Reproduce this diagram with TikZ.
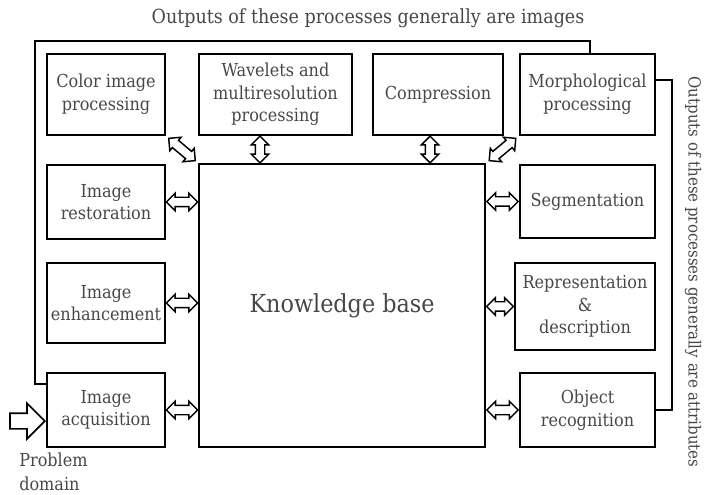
\documentclass[tikz,border=0pt]{standalone}
\usepackage{amsmath,amsfonts,amssymb}
\usepackage{fontspec}
\setmainfont{DejaVu Serif Condensed}
\usetikzlibrary{calc,shapes.arrows}

\begin{document}
\begin{tikzpicture}[x=0.75pt,y=-0.75pt,
  box/.style={rectangle,draw,line width=1.5pt,text=black!72,align=center,inner sep=1pt,
              font=\fontsize{13.4}{17}\selectfont},
  dbl/.style={double arrow,draw,fill=white,line width=1.1pt,inner sep=0pt,inner ysep=3pt,
              double arrow head extend=3pt,minimum height=#1},
  dbl/.default=23.5pt,
  fback/.style={line width=1.5pt},
  bigarrow/.style={single arrow,draw,line width=1.3pt,minimum height=26pt,inner sep=0pt,
              inner ysep=5.25pt,single arrow head extend=7.5pt,anchor=tip},
  note/.style={text=black!72,inner sep=0pt}]

\useasboundingbox (0,0) rectangle (707,495);

\node[box,minimum width=88.5pt,minimum height=60.75pt] (color) at (106,94.5) {Color image\\processing};
\node[box,minimum width=114.75pt,minimum height=60.75pt] (wave) at (275.5,94.5) {Wavelets and\\multiresolution\\processing};
\node[box,minimum width=97.5pt,minimum height=60.75pt] (comp) at (438,94.5) {Compression};
\node[box,minimum width=101.25pt,minimum height=60.75pt] (morph) at (587.5,94.5) {Morphological\\processing};

\node[box,minimum width=214.5pt,minimum height=212.25pt,font=\fontsize{18.6}{22}\selectfont] (kb) at (342,305.5) {Knowledge base};

\node[box,minimum width=88.5pt,minimum height=55.5pt] (restore) at (106,202) {Image\\restoration};
\node[box,minimum width=88.5pt,minimum height=60pt] (enhance) at (106,303) {Image\\enhancement};
\node[box,minimum width=88.5pt,minimum height=55.5pt] (acquire) at (106,410) {Image\\acquisition};

\node[box,minimum width=101.25pt,minimum height=54.75pt] (segment) at (587.5,201.5) {Segmentation};
\node[box,minimum width=105pt,minimum height=65.25pt] (repr) at (585,306.5) {Representation\\\&\\description};
\node[box,minimum width=101.25pt,minimum height=55.5pt] (object) at (587.5,410) {Object\\recognition};

\node[dbl] (a1) at ($(restore.east)!0.5!(restore.east -| kb.west)$) {};
\node[dbl] (a2) at ($(enhance.east)!0.5!(enhance.east -| kb.west)$) {};
\node[dbl] (a3) at ($(acquire.east)!0.5!(acquire.east -| kb.west)$) {};
\node[dbl] (a4) at ($(segment.west)!0.5!(segment.west -| kb.east)$) {};
\node[dbl=20pt] (a5) at ($(repr.west)!0.5!(repr.west -| kb.east)$) {};
\node[dbl] (a6) at ($(object.west)!0.5!(object.west -| kb.east)$) {};
\coordinate (w1) at ($(wave.south west)!0.4!(wave.south east)$);
\coordinate (c1) at ($(comp.south west)!0.44!(comp.south east)$);
\node[dbl=20pt,rotate=90] (a7) at ($(w1)!0.5!(w1 |- kb.north)$) {};
\node[dbl=20pt,rotate=90] (a8) at ($(c1)!0.5!(c1 |- kb.north)$) {};
\node[dbl=26pt,rotate=-40] (a9) at ($(color.south east)!0.5!(kb.north west)$) {};
\node[dbl=26pt,rotate=40] (a10) at ($(morph.south west)!0.5!(kb.north east)$) {};

\coordinate (mtop) at ($(morph.north west)!0.52!(morph.north east)$);
\draw[fback] ([yshift=-9pt]acquire.north west) -- ++(-11,0) |- ($(mtop)+(0,-12)$) -- (mtop);
\draw[fback] ([yshift=11pt]morph.east) -- ++(16,0) |- (object.east);

\node[bigarrow] (inarrow) at ($(acquire.west)+(0,11)$) {};

\node[note,font=\fontsize{14.6}{17}\selectfont] (toptext) at (368,18) {Outputs of these processes generally are images};
\node[note,font=\fontsize{12.5}{15}\selectfont,rotate=-90] (sidetext) at (693,272) {Outputs of these processes generally are attributes};
\node[note,anchor=north west,align=left,font=\fontsize{13.4}{18}\selectfont] (domain) at (19,453) {Problem\\domain};
\end{tikzpicture}
\end{document}
